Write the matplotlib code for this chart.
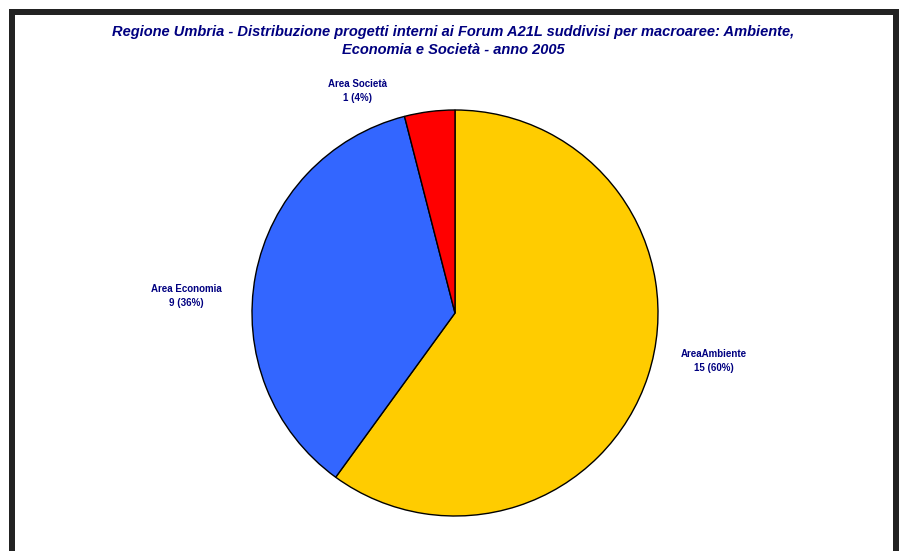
import matplotlib
matplotlib.use("Agg")
import matplotlib.pyplot as plt
from matplotlib.patches import Rectangle

categories = ["AreaAmbiente", "Area Economia", "Area Società"]
values = [15, 9, 1]
percents = ["60%", "36%", "4%"]
colors = ["#FFCC00", "#3366FF", "#FF0000"]
title = ("Regione Umbria - Distribuzione progetti interni ai Forum A21L suddivisi per macroaree: Ambiente,\n"
         "Economia e Società - anno 2005")

# label positions in units of pie radius (style)
label_pos = [(1.276, -0.236), (-1.325, 0.084), (-0.478, 1.094)]

W, H = 899, 551
cx, cy, R = 455, 313, 203
fig = plt.figure(figsize=(W / 100, H / 100), dpi=100)
fig.patch.set_facecolor("white")
ax = fig.add_axes([0, 0, 1, 1])

wedges, _ = ax.pie(values, colors=colors, startangle=90, counterclock=False,
                   wedgeprops=dict(edgecolor="black", linewidth=1.0))

for (lx, ly), c, v, p in zip(label_pos, categories, values, percents):
    ax.text(lx, ly, f"{c}\n{v} ({p})", ha="center", va="center",
            fontsize=7, fontweight="bold", color="#000080",
            family="Liberation Sans", linespacing=1.45)

ax.set_aspect("auto")
ax.set_xlim(-cx / R, (W - cx) / R)
ax.set_ylim((cy - H) / R, cy / R)
ax.axis("off")

fig.text(453 / W, 1 - 41 / H, title, ha="center", va="center",
         fontsize=10.5, fontweight="bold", fontstyle="italic", color="#000080",
         family="Liberation Sans", linespacing=1.45)

# frame
fc = "#222222"
fig.patches.append(Rectangle((9 / W, 0), 6 / W, 1 - 9 / H, transform=fig.transFigure,
                             facecolor=fc, edgecolor="none", figure=fig))
fig.patches.append(Rectangle((893 / W, 0), 6 / W, 1 - 9 / H, transform=fig.transFigure,
                             facecolor=fc, edgecolor="none", figure=fig))
fig.patches.append(Rectangle((9 / W, 1 - 15 / H), 890 / W, 6 / H, transform=fig.transFigure,
                             facecolor=fc, edgecolor="none", figure=fig))

fig.savefig("out.png", dpi=100)
